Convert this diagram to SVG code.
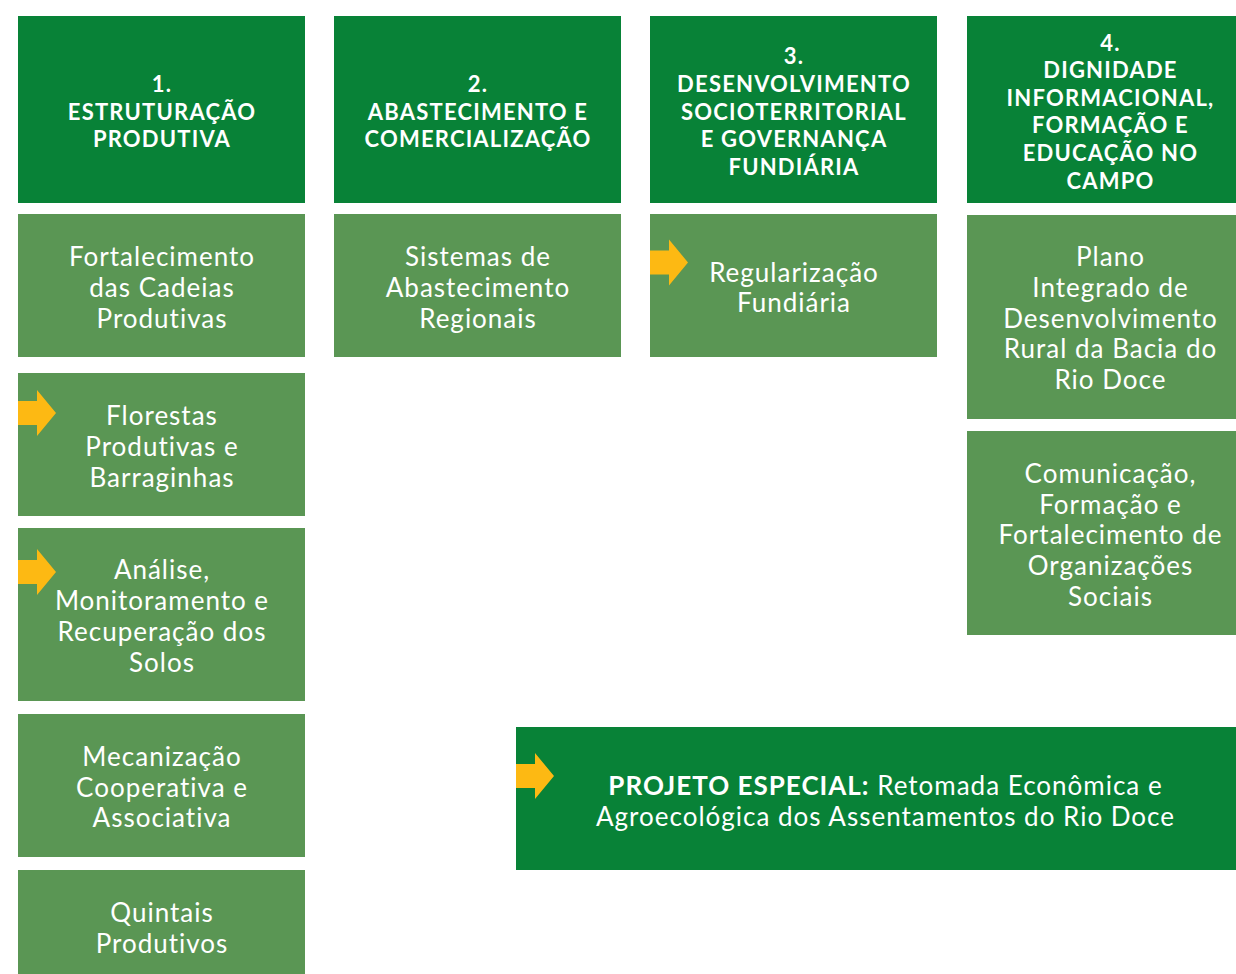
<svg xmlns="http://www.w3.org/2000/svg" width="1236" height="974" viewBox="0 0 1236 974">
<style>
.hd{fill:#088237}
.bx{fill:#5A9654}
.ht{font-family:Lato,"Open Sans",sans-serif;font-weight:700;font-size:22px;letter-spacing:1.2px;fill:#fff;text-anchor:middle}
.bt{font-family:Lato,"Open Sans",sans-serif;font-weight:400;font-size:26px;letter-spacing:1px;fill:#fff;text-anchor:middle}
.ar{fill:#FDB913}
</style>
<defs>
<path id="arrow" class="ar" d="M0,-12 H19 V-23 L38,0 L19,23 V12 H0 Z"/>
</defs>
<rect width="1236" height="974" fill="#fff"/>
<g id="h1"><rect class="hd" x="18" y="16" width="287" height="187"/>
<text class="ht" x="162" y="92">1.</text><text class="ht" x="162" y="120">ESTRUTURAÇÃO</text><text class="ht" x="162" y="147">PRODUTIVA</text></g>
<g id="h2"><rect class="hd" x="334" y="16" width="287" height="187"/>
<text class="ht" x="478" y="92">2.</text><text class="ht" x="478" y="120">ABASTECIMENTO E</text><text class="ht" x="478" y="147">COMERCIALIZAÇÃO</text></g>
<g id="h3"><rect class="hd" x="650" y="16" width="287" height="187"/>
<text class="ht" x="794" y="64">3.</text><text class="ht" x="794" y="92">DESENVOLVIMENTO</text><text class="ht" x="794" y="120">SOCIOTERRITORIAL</text><text class="ht" x="794" y="147">E GOVERNANÇA</text><text class="ht" x="794" y="175">FUNDIÁRIA</text></g>
<g id="h4"><rect class="hd" x="967" y="16" width="269" height="187"/>
<text class="ht" x="1110.5" y="51">4.</text><text class="ht" x="1110.5" y="78">DIGNIDADE</text><text class="ht" x="1110.5" y="106">INFORMACIONAL,</text><text class="ht" x="1110.5" y="133">FORMAÇÃO E</text><text class="ht" x="1110.5" y="161">EDUCAÇÃO NO</text><text class="ht" x="1110.5" y="189">CAMPO</text></g>

<g id="n1a"><rect class="bx" x="18" y="214" width="287" height="143"/>
<text class="bt" x="162" y="266">Fortalecimento</text><text class="bt" x="162" y="297">das Cadeias</text><text class="bt" x="162" y="328">Produtivas</text></g>
<g id="n1b"><rect class="bx" x="18" y="373" width="287" height="143"/>
<use href="#arrow" x="18" y="413"/>
<text class="bt" x="162" y="425">Florestas</text><text class="bt" x="162" y="456">Produtivas e</text><text class="bt" x="162" y="487">Barraginhas</text></g>
<g id="n1c"><rect class="bx" x="18" y="528" width="287" height="173"/>
<use href="#arrow" x="18" y="572"/>
<text class="bt" x="162" y="579">Análise,</text><text class="bt" x="162" y="610">Monitoramento e</text><text class="bt" x="162" y="641">Recuperação dos</text><text class="bt" x="162" y="672">Solos</text></g>
<g id="n1d"><rect class="bx" x="18" y="714" width="287" height="143"/>
<text class="bt" x="162" y="766">Mecanização</text><text class="bt" x="162" y="797">Cooperativa e</text><text class="bt" x="162" y="827">Associativa</text></g>
<g id="n1e"><rect class="bx" x="18" y="870" width="287" height="104"/>
<text class="bt" x="162" y="922">Quintais</text><text class="bt" x="162" y="953">Produtivos</text></g>

<g id="n2a"><rect class="bx" x="334" y="214" width="287" height="143"/>
<text class="bt" x="478" y="266">Sistemas de</text><text class="bt" x="478" y="297">Abastecimento</text><text class="bt" x="478" y="328">Regionais</text></g>

<g id="n3a"><rect class="bx" x="650" y="214" width="287" height="143"/>
<use href="#arrow" x="650" y="262.5"/>
<text class="bt" x="794" y="282">Regularização</text><text class="bt" x="794" y="312">Fundiária</text></g>

<g id="n4a"><rect class="bx" x="967" y="215" width="269" height="204"/>
<text class="bt" x="1110.5" y="266">Plano</text><text class="bt" x="1110.5" y="297">Integrado de</text><text class="bt" x="1110.5" y="328">Desenvolvimento</text><text class="bt" x="1110.5" y="358">Rural da Bacia do</text><text class="bt" x="1110.5" y="389">Rio Doce</text></g>
<g id="n4b"><rect class="bx" x="967" y="431" width="269" height="204"/>
<text class="bt" x="1110.5" y="483">Comunicação,</text><text class="bt" x="1110.5" y="514">Formação e</text><text class="bt" x="1110.5" y="544">Fortalecimento de</text><text class="bt" x="1110.5" y="575">Organizações</text><text class="bt" x="1110.5" y="606">Sociais</text></g>

<g id="special"><rect class="hd" x="516" y="727" width="720" height="143"/>
<use href="#arrow" x="516" y="776"/>
<text class="bt" x="885.5" y="795"><tspan font-weight="700">PROJETO ESPECIAL:</tspan> Retomada Econômica e</text>
<text class="bt" x="885.5" y="826">Agroecológica dos Assentamentos do Rio Doce</text></g>
<g id="connectors"></g>
</svg>
